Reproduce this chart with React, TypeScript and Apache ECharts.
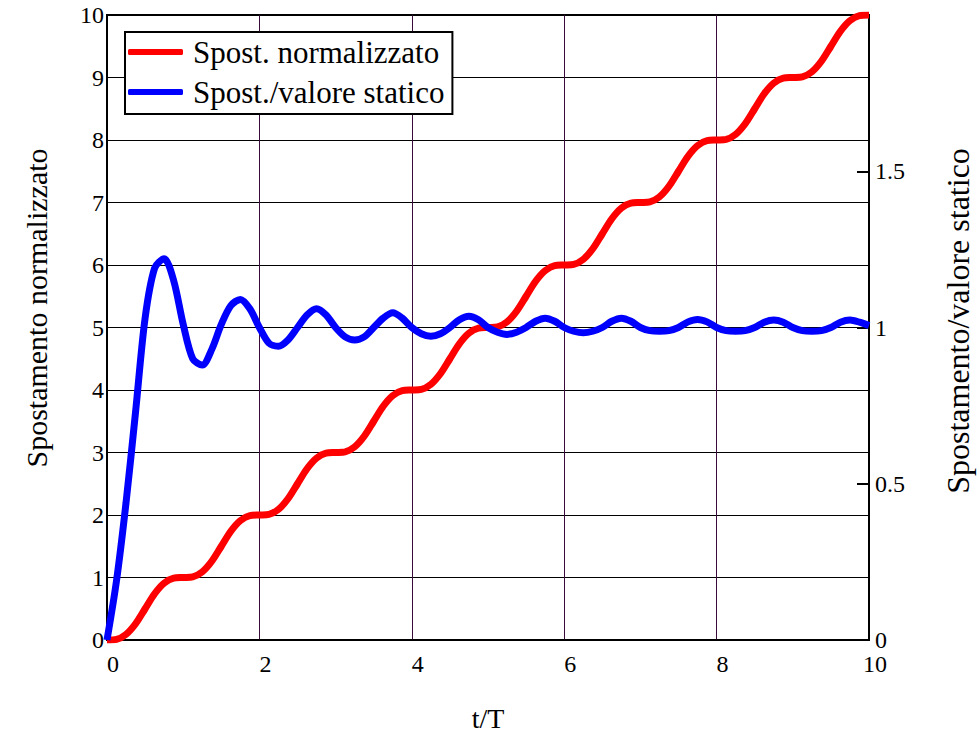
import React, { useEffect, useRef } from "react";
import * as echarts from "echarts";

const tValues = [
  0, 0.125, 0.25, 0.375, 0.5, 0.625, 0.75, 0.875,
  1, 1.125, 1.25, 1.375, 1.5, 1.625, 1.75, 1.875,
  2, 2.125, 2.25, 2.375, 2.5, 2.625, 2.75, 2.875,
  3, 3.125, 3.25, 3.375, 3.5, 3.625, 3.75, 3.875,
  4, 4.125, 4.25, 4.375, 4.5, 4.625, 4.75, 4.875,
  5, 5.125, 5.25, 5.375, 5.5, 5.625, 5.75, 5.875,
  6, 6.125, 6.25, 6.375, 6.5, 6.625, 6.75, 6.875,
  7, 7.125, 7.25, 7.375, 7.5, 7.625, 7.75, 7.875,
  8, 8.125, 8.25, 8.375, 8.5, 8.625, 8.75, 8.875,
  9, 9.125, 9.25, 9.375, 9.5, 9.625, 9.75, 9.875,
  10,
];

const spostNormalizzato = [
  0, 0.01, 0.09, 0.26, 0.5, 0.74, 0.91, 0.99,
  1, 1.01, 1.09, 1.26, 1.5, 1.74, 1.91, 1.99,
  2, 2.01, 2.09, 2.26, 2.5, 2.74, 2.91, 2.99,
  3, 3.01, 3.09, 3.26, 3.5, 3.74, 3.91, 3.99,
  4, 4.01, 4.09, 4.26, 4.5, 4.74, 4.91, 4.99,
  5, 5.01, 5.09, 5.26, 5.5, 5.74, 5.91, 5.99,
  6, 6.01, 6.09, 6.26, 6.5, 6.74, 6.91, 6.99,
  7, 7.01, 7.09, 7.26, 7.5, 7.74, 7.91, 7.99,
  8, 8.01, 8.09, 8.26, 8.5, 8.74, 8.91, 8.99,
  9, 9.01, 9.09, 9.26, 9.5, 9.74, 9.91, 9.99,
  10,
];

const spostValoreStatico = [
  0, 0.19, 0.44, 0.73, 1.03, 1.19, 1.22, 1.15,
  1.01, 0.9, 0.88, 0.93, 1.01, 1.07, 1.09, 1.06,
  1.0, 0.95, 0.94, 0.96, 1.0, 1.04, 1.06, 1.04,
  1.0, 0.97, 0.96, 0.97, 1.0, 1.03, 1.047, 1.03,
  1.0, 0.98, 0.972, 0.98, 1.0, 1.025, 1.036, 1.025,
  1.0, 0.985, 0.978, 0.985, 1.0, 1.02, 1.03, 1.02,
  1.0, 0.988, 0.983, 0.988, 1.0, 1.02, 1.03, 1.02,
  1.0, 0.99, 0.988, 0.99, 1.0, 1.018, 1.026, 1.018,
  1.0, 0.99, 0.988, 0.99, 1.0, 1.017, 1.024, 1.017,
  1.0, 0.99, 0.988, 0.99, 1.0, 1.017, 1.024, 1.017,
  1.006,
];

const seriesNames = ["Spost. normalizzato", "Spost./valore statico"];
const xTitle = "t/T";
const leftTitle = "Spostamento normalizzato";
const rightTitle = "Spostamento/valore statico";

const FONT = "Liberation Serif";

export default function App() {
  const ref = useRef<HTMLDivElement>(null);
  useEffect(() => {
    if (!ref.current) return;
    const chart = echarts.init(ref.current, undefined, { renderer: "svg" });
    const redData = tValues.map((t, i) => [t, spostNormalizzato[i]]);
    const blueData = tValues.map((t, i) => [t, spostValoreStatico[i]]);
    chart.setOption({
      animation: false,
      backgroundColor: "#ffffff",
      textStyle: { fontFamily: FONT },
      grid: {
        left: 107,
        top: 15,
        right: 109,
        bottom: 94,
        show: true,
        borderColor: "#000",
        borderWidth: 2,
        containLabel: false,
      },
      legend: {
        orient: "vertical",
        left: 125,
        top: 32,
        data: seriesNames,
        icon: "roundRect",
        itemWidth: 55,
        itemHeight: 6,
        itemGap: 6,
        padding: [3, 8, 5, 3],
        borderColor: "#000",
        borderWidth: 2,
        backgroundColor: "#fff",
        textStyle: {
          fontFamily: FONT,
          fontSize: 31,
          color: "#000",
          lineHeight: 34,
          padding: [0, 0, 0, 5],
        },
      },
      xAxis: {
        type: "value",
        min: 0,
        max: 10,
        interval: 2,
        axisLine: { show: true, lineStyle: { color: "#000", width: 2 } },
        axisTick: { show: false },
        axisLabel: {
          color: "#000",
          fontFamily: FONT,
          fontSize: 24,
          margin: 12,
          padding: [0, 0, 0, 12],
        },
        splitLine: { show: true, lineStyle: { color: "#3a0a3a", width: 1 } },
      },
      yAxis: [
        {
          type: "value",
          min: 0,
          max: 10,
          interval: 1,
          position: "left",
          axisLine: { show: true, lineStyle: { color: "#000", width: 2 } },
          axisTick: { show: false },
          axisLabel: {
            color: "#000",
            fontFamily: FONT,
            fontSize: 24,
            margin: 3,
            padding: [8, 0, 0, 0],
          },
          splitLine: { show: true, lineStyle: { color: "#000", width: 1 } },
        },
        {
          type: "value",
          min: 0,
          max: 2,
          interval: 0.5,
          position: "right",
          axisLine: { show: true, lineStyle: { color: "#000", width: 2 } },
          axisTick: {
            show: true,
            inside: true,
            length: 12,
            lineStyle: { color: "#000", width: 2 },
          },
          axisLabel: {
            color: "#000",
            fontFamily: FONT,
            fontSize: 24,
            margin: 6,
            showMaxLabel: false,
            formatter: (v: number) => (v >= 2 ? "" : String(v)),
          },
          splitLine: { show: false },
        },
      ],
      series: [
        {
          name: seriesNames[0],
          type: "line",
          yAxisIndex: 0,
          data: redData,
          showSymbol: false,
          smooth: 0.3,
          color: "#ff0000",
          lineStyle: { color: "#ff0000", width: 7 },
        },
        {
          name: seriesNames[1],
          type: "line",
          yAxisIndex: 1,
          data: blueData,
          showSymbol: false,
          smooth: 0.3,
          color: "#0000ff",
          lineStyle: { color: "#0000ff", width: 7 },
        },
      ],
      graphic: [
        {
          type: "text",
          x: 36,
          y: 308,
          rotation: Math.PI / 2,
          style: {
            text: leftTitle,
            fontFamily: FONT,
            fontSize: 30,
            fill: "#000",
            align: "center",
            verticalAlign: "middle",
          },
        },
        {
          type: "text",
          x: 958,
          y: 321,
          rotation: Math.PI / 2,
          style: {
            text: rightTitle,
            fontFamily: FONT,
            fontSize: 32,
            fill: "#000",
            align: "center",
            verticalAlign: "middle",
          },
        },
        {
          type: "text",
          x: 488,
          y: 718,
          style: {
            text: xTitle,
            fontFamily: FONT,
            fontSize: 28,
            fill: "#000",
            align: "center",
            verticalAlign: "middle",
          },
        },
      ],
    });
    return () => chart.dispose();
  }, []);
  return (
    <div
      ref={ref}
      style={{ width: 978, height: 734, position: "absolute", left: 0, top: 0 }}
    />
  );
}
